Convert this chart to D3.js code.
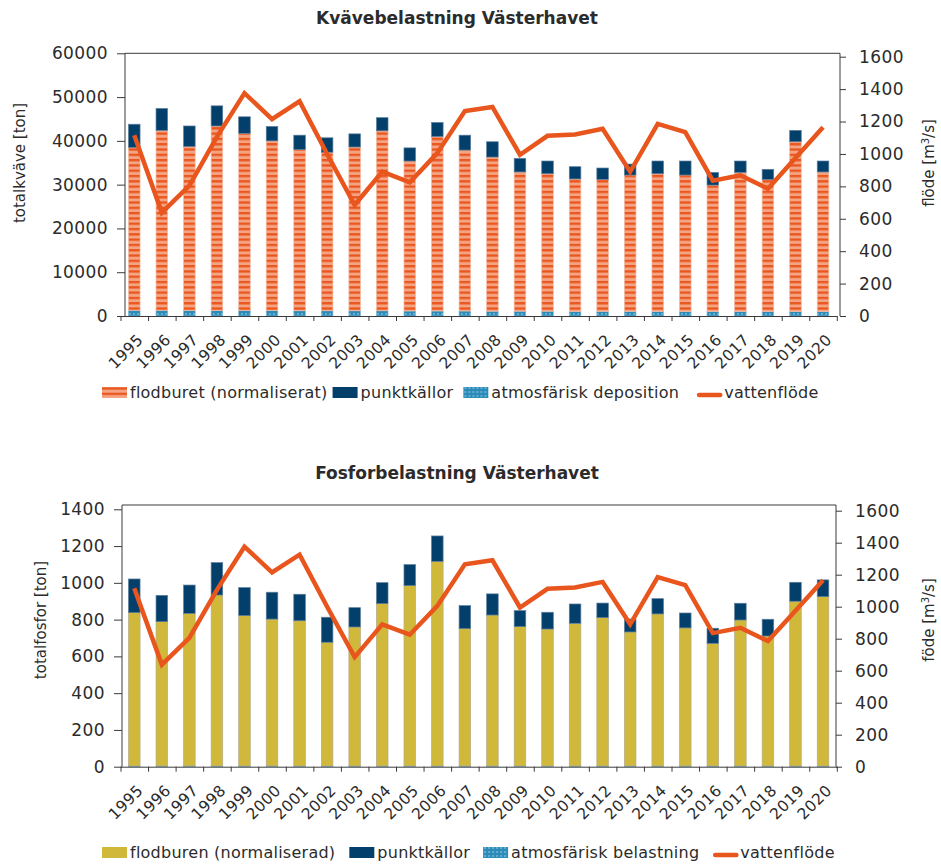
<!DOCTYPE html>
<html>
<head>
<meta charset="utf-8">
<script src="https://cdn.jsdelivr.net/npm/d3@7"></script>
<style>
  body { margin: 0; background: #fff; }
  text { font-family: "DejaVu Sans", sans-serif; fill: #2b2b2b; }
</style>
</head>
<body>
<svg id="chart" width="941" height="864"></svg>
<script>
// categories
const years = ['1995','1996','1997','1998','1999','2000','2001','2002','2003','2004','2005','2006','2007',
               '2008','2009','2010','2011','2012','2013','2014','2015','2016','2017','2018','2019','2020'];

// Kväve (ton)
const kvAtm   = [1300,1300,1250,1250,1250,1250,1200,1200,1200,1200,1150,1150,1150,1100,1100,1100,1050,1050,1050,1050,1000,1000,1000,1000,1000,1000];
const kvFlod  = [37200,41100,37450,42150,40450,38750,36800,36200,37400,41100,34250,39850,36750,35200,31800,31400,30250,30150,31150,31450,31200,28900,31800,30200,38800,31900];
const kvPunkt = [5300,5000,4700,4600,3800,3300,3300,3300,3000,3000,3000,3200,3400,3500,3100,2900,2800,2600,2500,2900,3200,2900,2600,2300,2600,2500];

// Fosfor (ton)
const fosAtm   = [4,4,4,4,4,4,4,4,4,4,4,4,4,4,4,4,4,4,4,4,4,4,4,4,4,4];
const fosFlod  = [834,785,830,930,818,799,790,673,756,883,981,1113,747,821,758,745,776,807,729,827,751,667,794,707,896,921];
const fosPunkt = [183,143,154,176,152,146,144,136,105,114,114,138,125,115,87,91,105,79,70,83,81,82,91,91,103,91];

// vattenflöde (m3/s)
const flow = [1115,638,805,1105,1375,1215,1325,1000,685,890,825,1005,1265,1290,995,1112,1120,1155,890,1185,1135,835,868,785,975,1165];

// tick values
const kvTicks   = [0,10000,20000,30000,40000,50000,60000];
const fosTicks  = [0,200,400,600,800,1000,1200,1400];
const flowTicks = [0,200,400,600,800,1000,1200,1400,1600];

const ORANGE = '#e8551d', NAVY = '#033f6b', MUSTARD = '#d0b83b', ATMBLUE = '#2b8bb9';

const svg = d3.select('#chart');
const defs = svg.append('defs');

// striped fill for flodburet
const stripes = defs.append('pattern').attr('id', 'stripes')
  .attr('patternUnits', 'userSpaceOnUse').attr('width', 6).attr('height', 5.3);
stripes.append('rect').attr('width', 6).attr('height', 5.3).attr('fill', '#f4a383');
stripes.append('rect').attr('width', 6).attr('height', 2.3).attr('fill', '#e9561e');

// dotted fill for atmosfärisk
const dots = defs.append('pattern').attr('id', 'dots')
  .attr('patternUnits', 'userSpaceOnUse').attr('width', 4).attr('height', 4);
dots.append('rect').attr('width', 4).attr('height', 4).attr('fill', ATMBLUE);
dots.append('circle').attr('cx', 2).attr('cy', 2).attr('r', 0.7).attr('fill', '#cfe6f2');

function styleTicks(sel, size) {
  sel.selectAll('line').attr('stroke', '#3a3a3a');
  sel.selectAll('text').style('font-size', size).style('font-family', '"DejaVu Sans", sans-serif')
    .style('letter-spacing', '0.4px').attr('fill', '#2b2b2b');
}

function drawPanel(o) {
  const g = svg.append('g');

  const x = d3.scaleBand().domain(years).range([120.5, 836.8]).paddingInner(0.58).paddingOuter(0.29);
  const xb = d3.scaleLinear().domain([0, years.length]).range([120.5, 836.8]);
  const yL = d3.scaleLinear().domain([0, o.leftMax]).range([o.bottom, o.leftTop]);
  const yR = d3.scaleLinear().domain([0, 1600]).range([o.bottom, o.rightTop]);

  // title
  g.append('text').attr('x', 457).attr('y', o.titleY).attr('text-anchor', 'middle')
    .style('font-weight', 'bold').style('font-size', '17px').text(o.title);

  // bars
  const rows = years.map((y, i) => ({ year: y, atm: o.atm[i], flod: o.flod[i], punkt: o.punkt[i] }));
  const series = d3.stack().keys(['atm', 'flod', 'punkt'])(rows);
  const fills = { atm: 'url(#dots)', flod: o.flodFill, punkt: NAVY };
  const strokes = { atm: '#7fb7d4', flod: o.flodStroke, punkt: '#5d7f9c' };

  g.selectAll('g.layer').data(series).join('g').attr('class', 'layer')
    .attr('fill', d => fills[d.key])
    .attr('stroke', d => strokes[d.key])
    .attr('stroke-width', 0.7)
    .selectAll('rect').data(d => d).join('rect')
    .attr('x', d => x(d.data.year))
    .attr('width', x.bandwidth())
    .attr('y', d => yL(d[1]))
    .attr('height', d => yL(d[0]) - yL(d[1]));

  // frame
  g.append('path')
    .attr('d', `M${o.left},${o.bottom}V${o.top}H${o.right}V${o.bottom}`)
    .attr('fill', 'none').attr('stroke', '#3a3a3a').attr('stroke-width', 1);

  // left axis
  const la = g.append('g').attr('transform', `translate(${o.left},0)`)
    .call(d3.axisLeft(yL).tickValues(o.leftTicks).tickFormat(d3.format('d'))
      .tickSize(8).tickPadding(9).tickSizeOuter(0));
  la.select('.domain').remove();
  styleTicks(la, '17px');

  // right axis
  const ra = g.append('g').attr('transform', `translate(${o.right},0)`)
    .call(d3.axisRight(yR).tickValues(flowTicks).tickFormat(d3.format('d'))
      .tickSize(6).tickPadding(13).tickSizeOuter(0));
  ra.select('.domain').remove();
  styleTicks(ra, '17px');

  // x axis: ticks at category boundaries
  const xa = g.append('g').attr('transform', `translate(0,${o.bottom})`)
    .call(d3.axisBottom(xb).tickValues(d3.range(years.length + 1)).tickFormat('').tickSize(5).tickSizeOuter(0));
  xa.selectAll('line, path').attr('stroke', '#3a3a3a');

  // x labels
  const xl = g.append('g').attr('transform', `translate(0,${o.bottom})`)
    .call(d3.axisBottom(x).tickSize(0));
  xl.select('.domain').remove();
  styleTicks(xl, '15.5px');
  xl.selectAll('text')
    .attr('x', 0).attr('y', 0).attr('dy', '0.35em')
    .attr('transform', 'translate(6,21) rotate(-45)')
    .style('text-anchor', 'end');

  // vattenflöde line
  g.append('path').datum(flow)
    .attr('fill', 'none').attr('stroke', ORANGE).attr('stroke-width', 4.5)
    .attr('stroke-linejoin', 'miter')
    .attr('d', d3.line().x((d, i) => x(years[i]) + x.bandwidth() / 2).y(d => yR(d)));

  // axis titles
  g.append('text').attr('transform', `translate(${o.leftLabelX},${o.labelY}) rotate(-90)`)
    .attr('text-anchor', 'middle').style('font-size', '15px').text(o.leftLabel);
  const rt = g.append('text').attr('transform', `translate(${o.rightLabelX},${o.labelY}) rotate(-90)`)
    .attr('text-anchor', 'middle').style('font-size', '15px');
  rt.append('tspan').text(o.rightLabel + ' [m');
  rt.append('tspan').attr('baseline-shift', 'super').style('font-size', '10px').text('3');
  rt.append('tspan').text('/s]');

  // legend
  const lg = g.append('g').attr('transform', `translate(102,${o.legendY})`);
  let cx = 0;
  o.legend.forEach((item, i) => {
    const it = lg.append('g').attr('transform', `translate(${cx},0)`);
    if (item.type === 'line') {
      it.append('line').attr('x1', 3).attr('x2', 24).attr('y1', -3).attr('y2', -3)
        .attr('stroke', ORANGE).attr('stroke-width', 4.7).attr('stroke-linecap', 'round');
    } else {
      it.append('rect').attr('x', 0).attr('y', -11).attr('width', 25).attr('height', 11)
        .attr('fill', item.fill);
    }
    const t = it.append('text').attr('x', 28).attr('y', 0)
      .style('font-size', '16px').style('letter-spacing', '0.25px').text(item.label);
    cx += 28 + t.node().getComputedTextLength() + o.legendGaps[i];
  });
}

drawPanel({
  title: 'Kvävebelastning Västerhavet', titleY: 24,
  left: 125, right: 840, top: 53.3, bottom: 316,
  leftTop: 53.3, rightTop: 56.7, leftMax: 60000, leftTicks: kvTicks,
  atm: kvAtm, flod: kvFlod, punkt: kvPunkt,
  flodFill: 'url(#stripes)', flodStroke: '#f6b89e',
  leftLabel: 'totalkväve [ton]', leftLabelX: 25, rightLabel: 'flöde', rightLabelX: 934, labelY: 163,
  legendY: 398, legendGaps: [5, 10, 17, 0],
  legend: [
    { label: 'flodburet (normaliserat)', fill: 'url(#stripes)' },
    { label: 'punktkällor', fill: NAVY },
    { label: 'atmosfärisk deposition', fill: 'url(#dots)' },
    { label: 'vattenflöde', type: 'line' }
  ]
});

drawPanel({
  title: 'Fosforbelastning Västerhavet', titleY: 479,
  left: 122, right: 836, top: 505, bottom: 766.7,
  leftTop: 509.3, rightTop: 510.7, leftMax: 1400, leftTicks: fosTicks,
  atm: fosAtm, flod: fosFlod, punkt: fosPunkt,
  flodFill: MUSTARD, flodStroke: '#b5ab8a',
  leftLabel: 'totalfosfor [ton]', leftLabelX: 46, rightLabel: 'föde', rightLabelX: 934, labelY: 620,
  legendY: 858, legendGaps: [14, 13, 13, 0],
  legend: [
    { label: 'flodburen (normaliserad)', fill: MUSTARD },
    { label: 'punktkällor', fill: NAVY },
    { label: 'atmosfärisk belastning', fill: 'url(#dots)' },
    { label: 'vattenflöde', type: 'line' }
  ]
});
</script>
</body>
</html>
